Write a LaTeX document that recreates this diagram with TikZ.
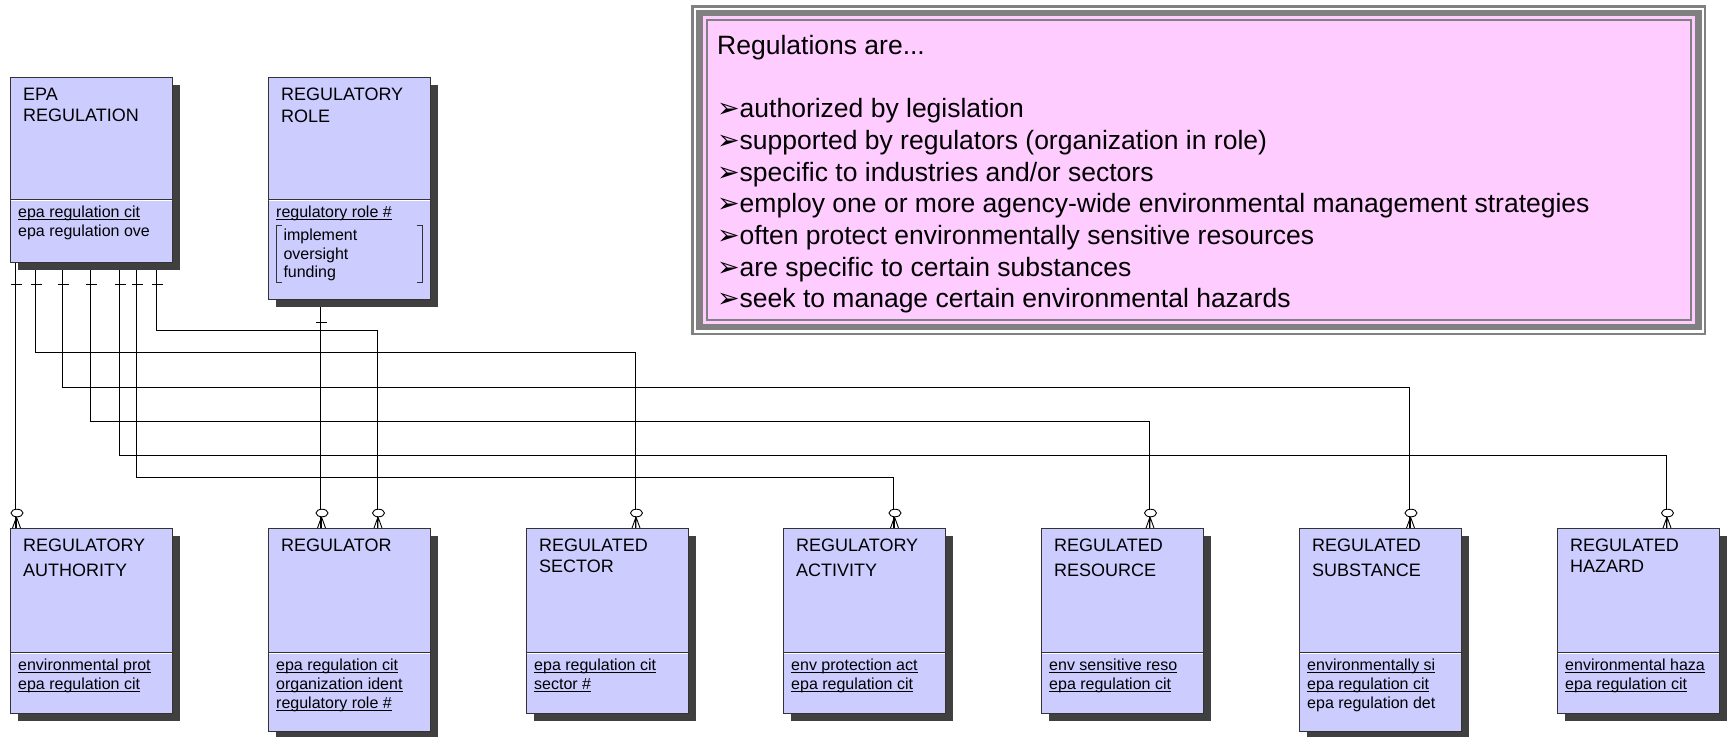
\documentclass[tikz,border=0pt]{standalone}
\usepackage{fontspec}
\setmainfont{Liberation Sans}
\newfontfamily\symfont{DejaVu Sans}
\usetikzlibrary{calc,shadows}
\definecolor{entfill}{HTML}{CCCCFF}
\definecolor{notefill}{HTML}{FFCCFF}
\definecolor{framegray}{HTML}{808080}
\definecolor{shadowgray}{HTML}{404040}
\definecolor{entline}{HTML}{333333}
\pgfdeclarelayer{bg}
\pgfsetlayers{bg,main}
\newcommand\uln[1]{\leavevmode\setbox0\hbox{#1}\rlap{\rule[-2.6pt]{\wd0}{0.9pt}}\box0}
\tikzset{
  entity/.style={draw=entline, line width=0.8pt, fill=entfill, minimum width=162pt,
    inner sep=0pt, anchor=north west,
    general shadow={fill=shadowgray, shadow xshift=8pt, shadow yshift=-8pt}},
  txt/.style={inner sep=0pt, anchor=base west},
  conn/.style={draw=black, line width=0.9pt},
  markline/.style={draw=black, line width=0.9pt},
}
\newcommand\ent[8]{%
  \node[entity, minimum height=#4pt] (#1) at (#2,#3) {};
  \draw[entline, line width=0.9pt] ($(#1.north west)+(0,#5)$) -- ($(#1.north east)+(0,#5)$);
  \draw[white, line width=0.8pt] ($(#1.north west)+(0.6,#5+1.6)$) -- ($(#1.north east)+(-0.6,#5+1.6)$);
  \node[txt] (#1-t) at ($(#1.north west)+(13,23.5)$) {\parbox[t]{150pt}{\fontsize{18}{#6}\selectfont #7}};
  \node[txt] (#1-a) at ($(#1.north west)+(8,#5+18.5)$) {\parbox[t]{150pt}{\fontsize{16}{19}\selectfont #8}};
}
\newcommand\crow[1]{%
  \draw[markline] ($(#1)+(1,-11)$) -- ($(#1)+(-3,0)$)
              ($(#1)+(1,-11)$) -- ($(#1)+(1,0)$)
              ($(#1)+(1,-11)$) -- ($(#1)+(5,0)$);
  \draw[markline, fill=white] ($(#1)+(1.5,-15)$) ellipse [x radius=6, y radius=3.8];
}
\newcommand\tick[2]{%
  \draw[markline] ($(#1)+(-4.5,#2)$) -- ($(#1)+(6.5,#2)$);
}
\begin{document}
\begin{tikzpicture}[x=1pt, y=-1pt]
\useasboundingbox (0,0) rectangle (1728,736);

% entities
\ent{epa}{10}{77}{185}{122}{21.3}{EPA\\REGULATION}{\uln{epa regulation cit}\\epa regulation ove}
\ent{role}{268}{77}{222}{122}{21.7}{REGULATORY\\ROLE}{\uln{regulatory role \#}}
\ent{auth}{10}{528}{185}{124}{24.7}{REGULATORY\\AUTHORITY}{\uln{environmental prot}\\\uln{epa regulation cit}}
\ent{regr}{268}{528}{203}{124}{24.7}{REGULATOR}{\uln{epa regulation cit}\\\uln{organization ident}\\\uln{regulatory role \#}}
\ent{sect}{526}{528}{185}{124}{20.7}{REGULATED\\SECTOR}{\uln{epa regulation cit}\\\uln{sector \#}}
\ent{act}{783}{528}{185}{124}{25}{REGULATORY\\ACTIVITY}{\uln{env protection act}\\\uln{epa regulation cit}}
\ent{res}{1041}{528}{185}{124}{25}{REGULATED\\RESOURCE}{\uln{env sensitive reso}\\\uln{epa regulation cit}}
\ent{subst}{1299}{528}{203}{124}{25}{REGULATED\\SUBSTANCE}{\uln{environmentally si}\\\uln{epa regulation cit}\\epa regulation det}
\ent{haz}{1557}{528}{185}{124}{20.7}{REGULATED\\HAZARD}{\uln{environmental haza}\\\uln{epa regulation cit}}

% role value list with bracket
\node[txt] (role-l) at ($(role.north west)+(15.3,163.7)$) {\parbox[t]{120pt}{\fontsize{16}{18.3}\selectfont implement\\oversight\\funding}};
\draw[entline, line width=0.9pt] ($(role.north west)+(14,148.7)$) -- ($(role.north west)+(8,148.7)$) -- ($(role.north west)+(8,205)$) -- ($(role.north west)+(14,205)$);
\draw[entline, line width=0.9pt] ($(role.north west)+(148.7,148.7)$) -- ($(role.north west)+(154.7,148.7)$) -- ($(role.north west)+(154.7,205)$) -- ($(role.north west)+(148.7,205)$);

% note box
\node[fill=notefill, draw=framegray, line width=2pt, minimum width=984.3pt, minimum height=299.5pt, inner sep=0pt] (note) at (1198.85,170.15) {};
\begin{pgfonlayer}{bg}
  \fill[notefill] ($(note.north west)+(-3,-3)$) rectangle ($(note.south east)+(3,3)$);
  \draw[framegray, line width=6.5pt] ($(note.north west)+(-6.3,-6.3)$) rectangle ($(note.south east)+(6.3,6.3)$);
  \draw[framegray, line width=2.7pt] ($(note.north west)+(-13,-13)$) rectangle ($(note.south east)+(13,13)$);
\end{pgfonlayer}
\newcommand\bul{\makebox[22.5pt][l]{\symfont\fontsize{27}{31.7}\selectfont ➢}}
\node[txt] (notetext) at (717,54.3) {\parbox[t]{1000pt}{\fontsize{26.5}{31.7}\selectfont
Regulations are...\\
\mbox{}\\
\bul authorized by legislation\\
\bul supported by regulators (organization in role)\\
\bul specific to industries and/or sectors\\
\bul employ one or more agency-wide environmental management strategies\\
\bul often protect environmentally sensitive resources\\
\bul are specific to certain substances\\
\bul seek to manage certain environmental hazards}};

% connector end points
\coordinate (e1) at ($(epa.south west)+(5.5,0)$);
\coordinate (e2) at ($(epa.south west)+(25.3,0)$);
\coordinate (e3) at ($(epa.south west)+(52.6,0)$);
\coordinate (e4) at ($(epa.south west)+(80.3,0)$);
\coordinate (e5) at ($(epa.south west)+(109,0)$);
\coordinate (e6) at ($(epa.south west)+(126.8,0)$);
\coordinate (e7) at ($(epa.south west)+(146.7,0)$);
\coordinate (r1) at ($(role.south west)+(52.5,0)$);
\coordinate (b1) at ($(auth.north west)+(5.5,0)$);
\coordinate (b2) at ($(sect.north west)+(109,0)$);
\coordinate (b3) at ($(subst.north west)+(110.5,0)$);
\coordinate (b4) at ($(res.north west)+(108,0)$);
\coordinate (b5) at ($(haz.north west)+(109,0)$);
\coordinate (b6) at ($(act.north west)+(110.5,0)$);
\coordinate (b7) at ($(regr.north west)+(109,0)$);
\coordinate (b8) at ($(regr.north west)+(52.5,0)$);

\begin{pgfonlayer}{bg}
  \draw[conn] (e1) -- (b1);
  \draw[conn] (e2) -- ++(0,90) -| (b2);
  \draw[conn] (e3) -- ++(0,124.7) -| (b3);
  \draw[conn] (e4) -- ++(0,158.5) -| (b4);
  \draw[conn] (e5) -- ++(0,192.5) -| (b5);
  \draw[conn] (e6) -- ++(0,215) -| (b6);
  \draw[conn] (e7) -- ++(0,68) -| (b7);
  \draw[conn] (r1) -- (b8);
\end{pgfonlayer}

% one marks
\foreach \c in {e1,e2,e3,e4,e5,e6,e7} {\tick{\c}{22}}
\tick{r1}{23}
% many-optional marks
\foreach \c in {b1,b2,b3,b4,b5,b6,b7,b8} {\crow{\c}}
\end{tikzpicture}
\end{document}
